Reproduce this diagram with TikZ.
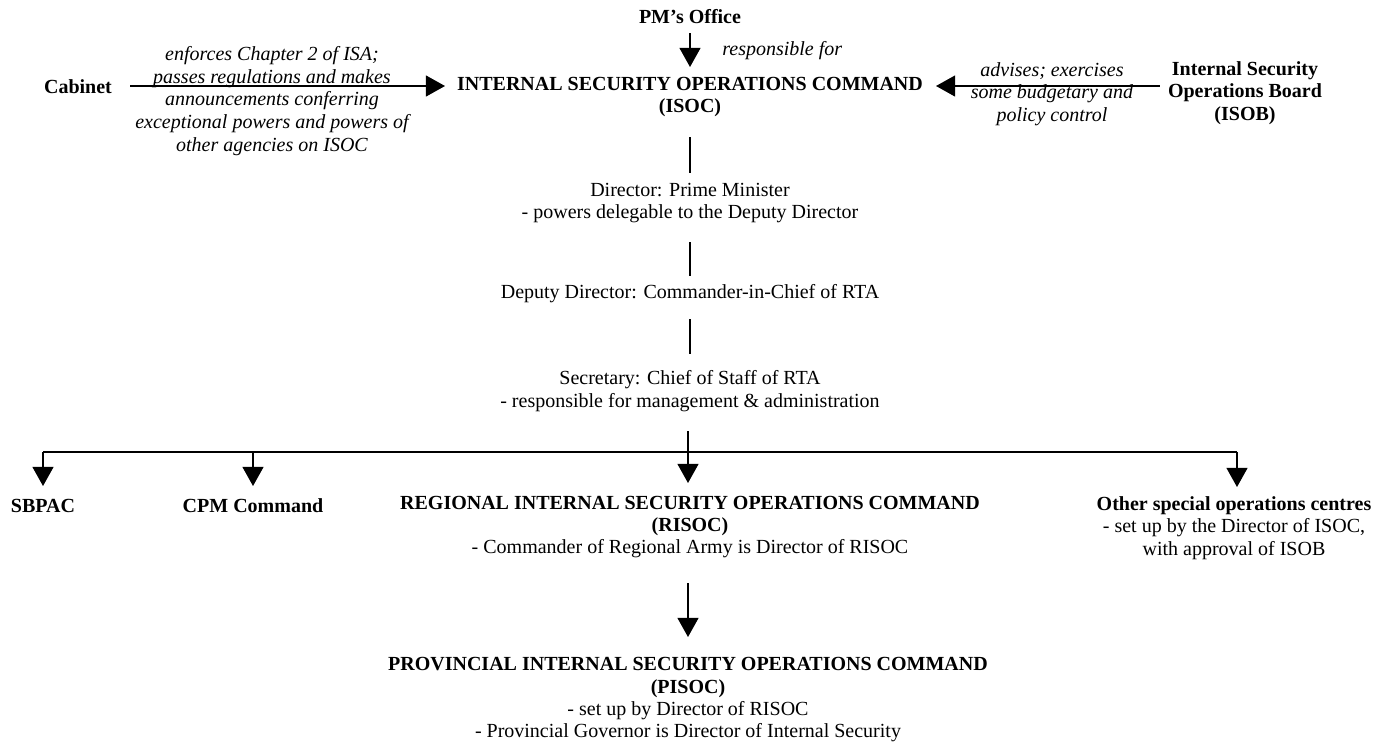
\documentclass[tikz,border=0pt]{standalone}
\usepackage{fontspec}
\setmainfont{Liberation Serif}
\usetikzlibrary{arrows.meta}
\begin{document}
\begin{tikzpicture}[x=0.6pt,y=-0.6pt,
  txt/.style={inner sep=0pt, align=center, font=\fontsize{12}{13.4}\selectfont},
  bold/.style={txt, font=\fontsize{12}{13.4}\selectfont\bfseries},
  lab/.style={txt, font=\fontsize{12}{13.6}\selectfont\itshape},
  arr/.style={line width=0.9pt, -{Triangle[length=11.5pt,width=12.6pt]}},
  ln/.style={line width=0.9pt}]
\useasboundingbox (0,0) rectangle (1382,744);
% top row
\node[bold] (pm) at (690,17) {PM’s Office};
\node[lab, anchor=west] (resp) at (722,51) {responsible for};
\node[bold] (isoc) at (690,97) {INTERNAL SECURITY OPERATIONS COMMAND\\(ISOC)};
\node[bold] (cab) at (78,87) {Cabinet};
\node[lab] (cablab) at (272,101) {enforces Chapter 2 of ISA;\\passes regulations and makes\\announcements conferring\\exceptional powers and powers of\\other agencies on ISOC};
\node[bold] (isob) at (1245,93) {Internal Security\\Operations Board\\(ISOB)};
\node[lab] (isoblab) at (1052,94) {advises; exercises\\some budgetary and\\policy control};
% centre column
\node[txt] (dir) at (690,203) {Director: Prime Minister\\- powers delegable to the Deputy Director};
\node[txt] (dep) at (690,294) {Deputy Director: Commander-in-Chief of RTA};
\node[txt] (sec) at (690,391) {Secretary: Chief of Staff of RTA\\- responsible for management \& administration};
% bottom row
\node[bold] (sbpac) at (43,506) {SBPAC};
\node[bold] (cpm) at (253,506) {CPM Command};
\node[txt] (risoc) at (690,527) {\textbf{REGIONAL INTERNAL SECURITY OPERATIONS COMMAND}\\\textbf{(RISOC)}\\- Commander of Regional Army is Director of RISOC};
\node[txt] (other) at (1234,528) {\textbf{Other special operations centres}\\- set up by the Director of ISOC,\\with approval of ISOB};
\node[txt] (pisoc) at (688,700) {\textbf{PROVINCIAL INTERNAL SECURITY OPERATIONS COMMAND}\\\textbf{(PISOC)}\\- set up by Director of RISOC\\- Provincial Governor is Director of Internal Security};
\coordinate (hub) at (688,452);
% connectors
\draw[arr] (pm.south |- 0,33) -- (pm.south |- 0,67);
\draw[arr] (cab.east |- 0,86) ++(18,0) coordinate (cabA) -- (445,86) coordinate (cabB);
\draw[arr] (isob.west |- 0,86) ++(-8,0) -- (936,86);
\draw[ln] (isoc.south |- 0,137) -- (isoc.south |- 0,173);
\draw[ln] (dir.south |- 0,242) -- (dir.south |- 0,276);
\draw[ln] (dep.south |- 0,319) -- (dep.south |- 0,354);
\draw[arr] (hub |- 0,431) -- (hub |- 0,483);
\draw[ln] (sbpac.north |- hub) -- (hub);
\draw[ln] (hub) -- (1237,452) coordinate (otherTop);
\draw[arr] (sbpac.north |- hub) -- (sbpac.north |- 0,486);
\draw[arr] (cpm.north |- hub) -- (cpm.north |- 0,486);
\draw[arr] (otherTop) -- (otherTop |- 0,487);
\draw[arr] (pisoc.north |- 0,583) -- (pisoc.north |- 0,637);
\end{tikzpicture}
\end{document}
